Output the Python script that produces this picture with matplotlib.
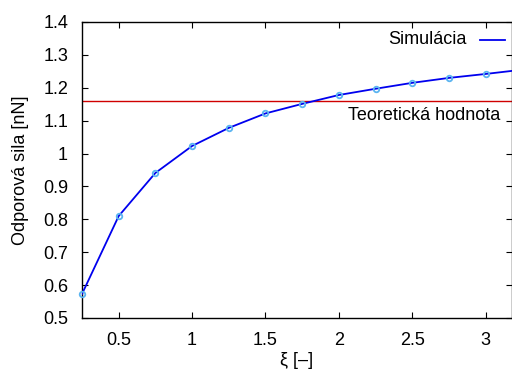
import matplotlib
matplotlib.use("Agg")
import matplotlib.pyplot as plt

plt.rcParams['font.family'] = ['Liberation Sans', 'DejaVu Sans']

xi = [0.25, 0.5, 0.75, 1.0, 1.25, 1.5, 1.75, 2.0, 2.25, 2.5, 2.75, 3.0, 3.25]
force = [0.573, 0.810, 0.941, 1.023, 1.078, 1.122, 1.151, 1.178, 1.197, 1.215, 1.230, 1.242, 1.255]
theory = 1.16

x_ticks = [0.5, 1, 1.5, 2, 2.5, 3]
x_tick_labels = ["0.5", "1", "1.5", "2", "2.5", "3"]
y_ticks = [0.5, 0.6, 0.7, 0.8, 0.9, 1.0, 1.1, 1.2, 1.3, 1.4]
y_tick_labels = ["0.5", "0.6", "0.7", "0.8", "0.9", "1", "1.1", "1.2", "1.3", "1.4"]

fs = 13

fig = plt.figure(figsize=(5.12, 3.74), dpi=100)
ax = fig.add_axes([82 / 512, 1 - 318 / 374, 1 - 82 / 512, (318 - 22) / 374])

ax.axhline(theory, color="#d00000", lw=1.0, zorder=2)
ax.plot(xi, force, color="#0000ee", lw=1.3, zorder=3, label="Simulácia")
ax.plot(xi, force, linestyle="none", marker="o", ms=4, mfc="none",
        mec="#5ab4f0", mew=1.3, zorder=4, clip_on=False)

ax.set_xlim(0.25, 3.18)
ax.set_ylim(0.5, 1.4)
ax.set_xticks(x_ticks)
ax.set_xticklabels(x_tick_labels)
ax.set_yticks(y_ticks)
ax.set_yticklabels(y_tick_labels)
ax.tick_params(direction="in", length=4, width=0.8, labelsize=fs,
               top=True, right=True)
ax.tick_params(axis="y", pad=10)
ax.tick_params(axis="x", pad=10)
for s in ax.spines.values():
    s.set_linewidth(1.0)

ax.set_xlabel("ξ [–]", fontsize=fs, labelpad=2)
ax.set_ylabel("Odporová sila [nN]", fontsize=fs, labelpad=10)

# gnuplot-style key, right aligned inside the plot
ax.plot([480 / 512, 505 / 512], [1 - 40 / 374] * 2, color="#0000ee", lw=1.3,
        transform=fig.transFigure, clip_on=False)
fig.text(467 / 512, 1 - 40 / 374, "Simulácia", ha="right", va="center", fontsize=fs)
fig.text(500 / 512, 1 - 115 / 374, "Teoretická hodnota", ha="right", va="center", fontsize=fs)

fig.savefig("out.png", dpi=100)
